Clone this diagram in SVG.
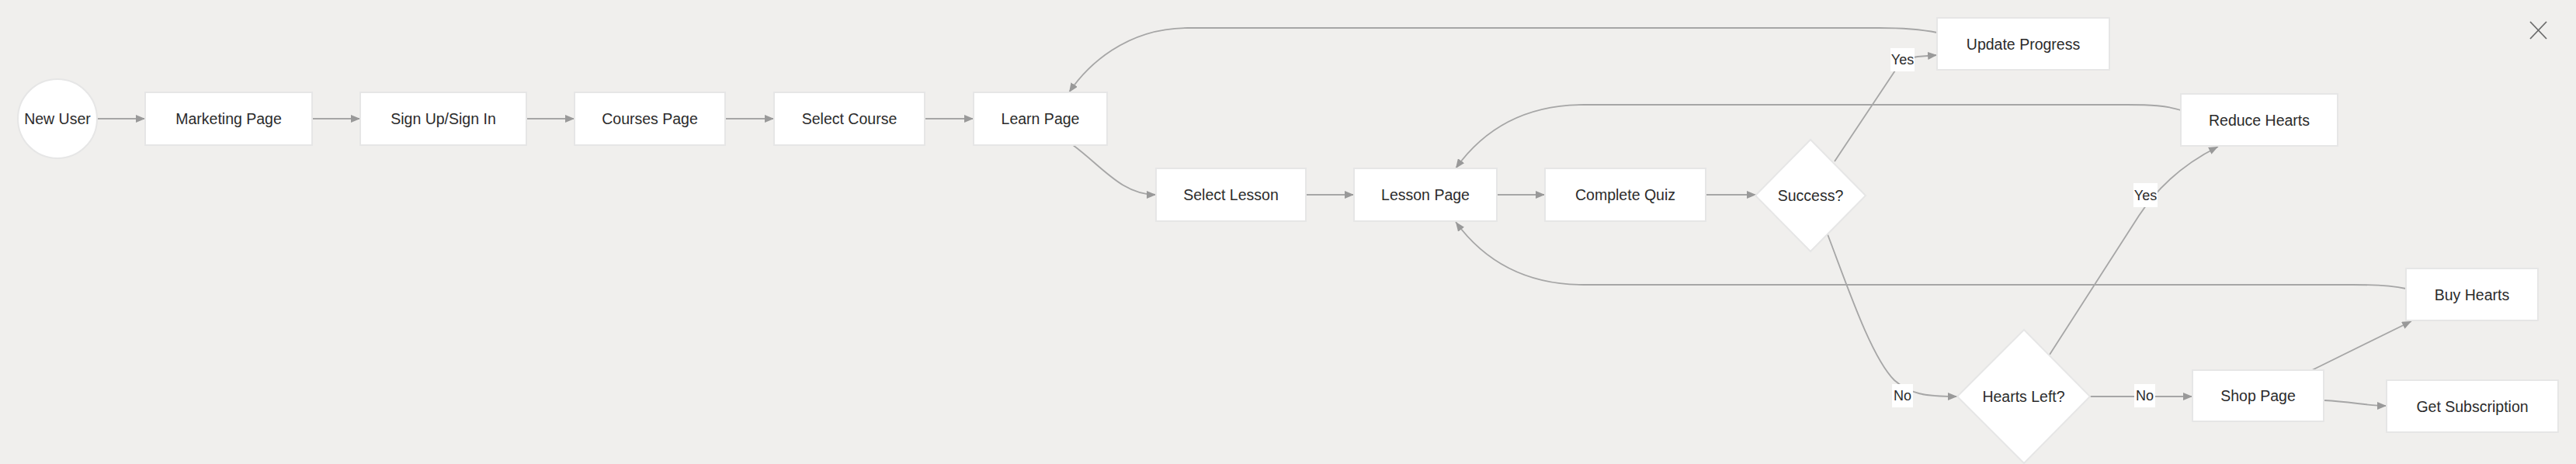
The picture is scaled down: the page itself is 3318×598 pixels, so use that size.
<svg xmlns="http://www.w3.org/2000/svg" width="3318" height="598" viewBox="0 0 3318 598">
<style>
.bg{fill:#f0efed}
.node rect,.node polygon,.node circle{fill:#ffffff;stroke:#e6e6e6;stroke-width:2}
.node text{font-family:"Liberation Sans",Arial,sans-serif;font-size:19.5px;fill:#2b2b2b;text-anchor:middle}
.edges path{fill:none;stroke:#a6a6a6;stroke-width:1.8}
.lbl rect{fill:#ffffff}
.lbl text{font-family:"Liberation Sans",Arial,sans-serif;font-size:18px;fill:#2b2b2b;text-anchor:middle}
.close line{stroke:#6b6b6b;stroke-width:1.8}
</style>
<defs>
<marker id="arr" viewBox="0 0 12 10" refX="12" refY="5" markerWidth="12" markerHeight="10" markerUnits="userSpaceOnUse" orient="auto">
<path d="M0,0 L12,5 L0,10 z" fill="#999999"/>
</marker>
</defs>
<rect class="bg" x="0" y="0" width="3318" height="598"/>

<g id="connectors" class="edges">
<path d="M125,153 L187,153" marker-end="url(#arr)"/>
<path d="M402,153 L464,153" marker-end="url(#arr)"/>
<path d="M678,153 L740,153" marker-end="url(#arr)"/>
<path d="M934,153 L997,153" marker-end="url(#arr)"/>
<path d="M1191,153 L1254,153" marker-end="url(#arr)"/>
<path d="M1382,187 C1420,215 1445,251 1489,251" marker-end="url(#arr)"/>
<path d="M1682,251 L1744,251" marker-end="url(#arr)"/>
<path d="M1928,251 L1990,251" marker-end="url(#arr)"/>
<path d="M2197,251 L2262,251" marker-end="url(#arr)"/>
<path d="M2363,208 L2443,88 Q2452,75 2470,73 L2495,71" marker-end="url(#arr)"/>
<path d="M2495,42 C2470,37 2450,36 2420,36 L1530,36 C1450,36 1400,85 1377,119" marker-end="url(#arr)"/>
<path d="M2354,302 C2380,370 2410,460 2440,490 C2460,508 2480,511 2521,511" marker-end="url(#arr)"/>
<path d="M2809,142 C2790,136 2770,135 2740,135 L2040,135 C1955,135 1905,175 1875,217" marker-end="url(#arr)"/>
<path d="M2640,457 L2755,278 C2780,240 2815,210 2857,189" marker-end="url(#arr)"/>
<path d="M2692,511 L2824,511" marker-end="url(#arr)"/>
<path d="M2978,477 L3106,414" marker-end="url(#arr)"/>
<path d="M2994,516 C3030,518 3050,523 3074,523" marker-end="url(#arr)"/>
<path d="M3099,372 C3080,368 3060,367 3030,367 L2040,367 C1955,367 1905,327 1875,286" marker-end="url(#arr)"/>
</g>

<g id="edge-labels">
<g class="lbl"><rect x="2435" y="62" width="31" height="30"/><text x="2450.5" y="83">Yes</text></g>
<g class="lbl"><rect x="2437" y="495" width="27" height="30"/><text x="2450.5" y="516">No</text></g>
<g class="lbl"><rect x="2748" y="236" width="31" height="31"/><text x="2763.5" y="258">Yes</text></g>
<g class="lbl"><rect x="2749" y="495" width="27" height="30"/><text x="2762.5" y="516">No</text></g>
</g>

<g id="new-user" class="node"><circle cx="74" cy="153" r="51"/><text x="74" y="160">New User</text></g>
<g id="marketing-page" class="node"><rect x="187" y="119" width="215" height="68"/><text x="294.5" y="160">Marketing Page</text></g>
<g id="sign-up" class="node"><rect x="464" y="119" width="214" height="68"/><text x="571" y="160">Sign Up/Sign In</text></g>
<g id="courses-page" class="node"><rect x="740" y="119" width="194" height="68"/><text x="837" y="160">Courses Page</text></g>
<g id="select-course" class="node"><rect x="997" y="119" width="194" height="68"/><text x="1094" y="160">Select Course</text></g>
<g id="learn-page" class="node"><rect x="1254" y="119" width="172" height="68"/><text x="1340" y="160">Learn Page</text></g>
<g id="select-lesson" class="node"><rect x="1489" y="217" width="193" height="68"/><text x="1585.5" y="258">Select Lesson</text></g>
<g id="lesson-page" class="node"><rect x="1744" y="217" width="184" height="68"/><text x="1836" y="258">Lesson Page</text></g>
<g id="complete-quiz" class="node"><rect x="1990" y="217" width="207" height="68"/><text x="2093.5" y="258">Complete Quiz</text></g>
<g id="success" class="node"><polygon points="2332,180 2403,252 2332,324 2261,252"/><text x="2332" y="259">Success?</text></g>
<g id="update-progress" class="node"><rect x="2495" y="23" width="222" height="67"/><text x="2606" y="63.5">Update Progress</text></g>
<g id="reduce-hearts" class="node"><rect x="2809" y="121" width="202" height="67"/><text x="2910" y="161.5">Reduce Hearts</text></g>
<g id="hearts-left" class="node"><polygon points="2607,425 2692,511 2607,597 2521,511"/><text x="2606.5" y="518">Hearts Left?</text></g>
<g id="shop-page" class="node"><rect x="2824" y="477" width="169" height="66"/><text x="2908.5" y="517">Shop Page</text></g>
<g id="buy-hearts" class="node"><rect x="3099" y="346" width="170" height="67"/><text x="3184" y="386.5">Buy Hearts</text></g>
<g id="get-subscription" class="node"><rect x="3074" y="490" width="221" height="67"/><text x="3184.5" y="530.5">Get Subscription</text></g>

<g id="close" class="close"><line x1="3259" y1="28" x2="3280" y2="50"/><line x1="3280" y1="28" x2="3259" y2="50"/></g>
</svg>
